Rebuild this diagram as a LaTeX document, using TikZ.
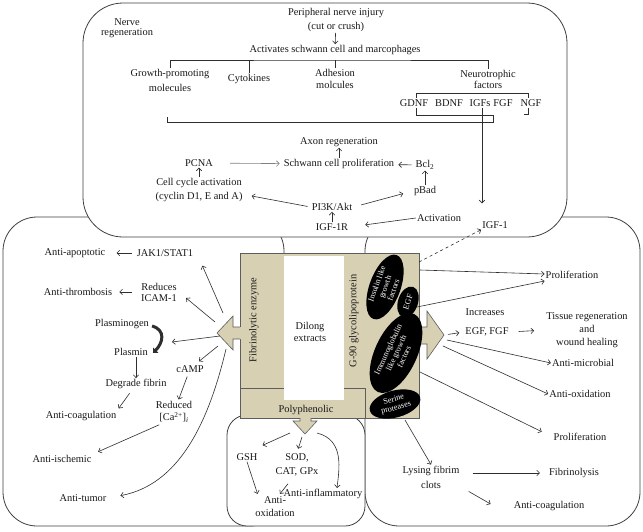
\documentclass[tikz,border=0pt]{standalone}
\usepackage{fontspec}
\setmainfont{Liberation Serif}
\usetikzlibrary{arrows.meta,shapes.geometric,calc}
\definecolor{beige}{HTML}{D7D0B3}
\definecolor{lncol}{HTML}{2E2E2E}
\definecolor{boxcol}{HTML}{404040}
\begin{document}
\begin{tikzpicture}[x=1pt,y=-1pt,
  every node/.style={font=\fontsize{10.4}{12}\selectfont, text=black!90, inner sep=1pt, align=center},
  lsk/.style={font=\fontsize{10.4}{#1}\selectfont},
  arr/.style={draw=lncol, line width=0.6pt, -{Straight Barb[length=2.8pt,width=5.5pt]}},
  plain/.style={draw=lncol, line width=0.6pt},
  bigbox/.style={draw=boxcol, line width=0.8pt, fill=white},
  blob/.style={ellipse, fill=black, draw=none, inner sep=0pt},
  blobtxt/.style={text=white, font=\fontsize{8.2}{8.8}\selectfont, inner sep=0pt},
  beigeline/.style={draw=boxcol!85, line width=0.6pt},
]
\useasboundingbox (0,0) rectangle (643,531);
\fill[white] (0,0) rectangle (643,531);

% ---- outer regions
\draw[bigbox, rounded corners=34pt] (3,217) rectangle (284,526);
\draw[bigbox, rounded corners=34pt] (365,217) rectangle (640,526);
\draw[bigbox, rounded corners=20pt] (227,415) rectangle (365,526);
\draw[bigbox, rounded corners=40pt] (83,3) rectangle (567,237);

% ---- central beige panel
\draw[fill=beige, beigeline] (240,253) rectangle (419,418);
\fill[white] (284,256) rectangle (344,400);
\draw[beigeline] (240,388) -- (284,388) (344,388) -- (365,388) -- (365,418);
\fill[beige] (241,327) -- (233,327) -- (233,316) -- (217,333) -- (233,350) -- (233,339) -- (241,339) -- cycle;
\draw[beigeline] (240,327) -- (233,327) -- (233,316) -- (217,333) -- (233,350) -- (233,339) -- (240,339);
\fill[beige] (418,327) -- (427,327) -- (427,311) -- (444,335) -- (427,359) -- (427,344) -- (418,344) -- cycle;
\draw[beigeline] (419,327) -- (427,327) -- (427,311) -- (444,335) -- (427,359) -- (427,344) -- (419,344);
\fill[beige] (300,417) -- (300,421) -- (293,421) -- (305,434) -- (317,421) -- (311,421) -- (311,417) -- cycle;
\draw[beigeline] (300,418) -- (300,421) -- (293,421) -- (305,434) -- (317,421) -- (311,421) -- (311,418);
\coordinate (Ltip) at (217,333);
\coordinate (Rtip) at (444,335);
\coordinate (Btip) at (305,434);

\node[rotate=90] (fe) at (254,320) {Fibrinolytic enzyme};
\node[rotate=90] (g90) at (354,321) {G-90 glycolipoprotein};
\node (dil) at (310,332) {Dilong\\extracts};
\node (poly) at (306,410) {Polyphenolic};

\node[blob, minimum width=68pt, minimum height=31pt, rotate=70] (e1) at (385,287) {};
\node[blobtxt, rotate=70] (t1) at (e1.center) {Insulin like\\growth\\factors};
\node[blob, minimum width=32pt, minimum height=20pt, rotate=72] (e2) at (408,302) {};
\node[blobtxt, rotate=72] (t2) at (e2.center) {EGF};
\node[blob, minimum width=86pt, minimum height=42pt, rotate=65] (e3) at (396,353) {};
\node[blobtxt, rotate=65] (t3) at (e3.center) {Immunoglobulin\\like growth\\factors};
\node[blob, minimum width=52pt, minimum height=27pt, rotate=15] (e4) at (395,404) {};
\node[blobtxt, rotate=15] (t4) at (e4.center) {Serine\\proteases};

% ---- top region
\node[lsk=10.5] (nr) at (127,28) {Nerve\\regeneration};
\node[lsk=14] (pni) at (336,20) {Peripheral nerve injury\\(cut or crush)};
\node (act) at (335,50) {Activates schwann cell and marcophages};
\draw[arr] (pni) -- (act);
\node[lsk=15] (gpm) at (170,80) {Growth-promoting\\molecules};
\node (cyt) at (249,79) {Cytokines};
\node[lsk=12] (adh) at (335,79) {Adhesion\\molcules};
\node[lsk=11] (neu) at (488,79) {Neurotrophic\\factors};
\coordinate (bar) at (335,60);
\draw[plain] (gpm.north) |- (bar) -| (neu.north);
\draw[plain] (cyt.north) -- (cyt.north |- bar);
\draw[plain] (adh.north) -- (adh.north |- bar);

\node (gdnf) at (414,103) {GDNF};
\node (bdnf) at (449,103) {BDNF};
\node (igfs) at (480,103) {IGFs};
\node (fgf) at (503,103) {FGF};
\node (ngf) at (531,103) {NGF};
\draw[plain] (416,98) |- (528,93) -- (528,98);
\draw[plain] (416,108) -- (416,115) -- (493,115) -- (493,122) -- (167,122) -- (167,117);
\draw[plain] (528,108) -- (528,114) -- (524,114);

\node (axon) at (339,142) {Axon regeneration};
\node (sch) at (339,164) {Schwann cell proliferation};
\node (pcna) at (199,163) {PCNA};
\node[lsk=14] (cca) at (199,190) {Cell cycle activation\\(cyclin D1, E and A)};
\node (bcl) at (425,165) {Bcl\textsubscript{2}};
\node (pbad) at (425,191) {pBad};
\node (pi3k) at (332,207) {PI3K/Akt};
\node (igfr) at (332,227) {IGF-1R};
\node (actv) at (439,218) {Activation};
\node (igf1) at (495,225) {IGF-1};

\draw[arr, shorten >=17pt] ($(igfs.south)+(2,0)$) -- ($(igfs.south |- igf1.north)+(2,0)$);
\draw[arr] (sch) -- (axon);
\draw[arr, draw=gray, shorten <=16pt, shorten >=3pt] (pcna) -- (sch);
\draw[arr] (cca) -- (pcna);
\draw[arr, shorten <=3pt, shorten >=3pt] (bcl) -- (sch);
\draw[arr] (pbad) -- (bcl);
\draw[arr, shorten <=3pt] (pi3k.west) -- ($(cca.east)+(8,6)$);
\draw[arr, shorten <=8pt, shorten >=10pt] (pi3k.east) -- (pbad.west);
\draw[arr] (igfr) -- (pi3k);
\draw[arr, shorten >=16pt] (actv.west) -- (igfr.east);
\coordinate (gtr) at (419,262);
\draw[arr, dashed] (gtr) -- (igf1.south west);

% ---- left region
\node (aap) at (75,253) {Anti-apoptotic};
\node (jak) at (165,253) {JAK1/STAT1};
\node (ath) at (78,292) {Anti-thrombosis};
\node[lsk=11] (ica) at (159,292) {Reduces\\ICAM-1};
\node (plg) at (122,324) {Plasminogen};
\node (pls) at (131,352) {Plasmin};
\node (camp) at (190,369) {cAMP};
\node (dfb) at (136,384) {Degrade fibrin};
\node[lsk=12] (red) at (174,412) {Reduced\\{[}Ca\textsuperscript{2+}{]}\textsubscript{\itshape i}};
\node (aco) at (81,416) {Anti-coagulation};
\node (ais) at (62,459) {Anti-ischemic};
\node (atu) at (83,498) {Anti-tumor};

\draw[arr, shorten <=4pt, shorten >=10pt] (jak.west) -- (aap.east);
\draw[arr, shorten <=8pt, shorten >=6pt] (ica.west) -- (ath.east);
\coordinate (l1) at (223,313);
\coordinate (l2) at (215,322);
\coordinate (l3) at (220,336);
\coordinate (l4) at (218,346);
\coordinate (l5) at (226,349);
\coordinate (cres) at (172,342);
\draw[arr] (l1) -- ($(jak.south east)+(8,8)$);
\draw[arr] (l2) -- ($(ica.east)+(8,6)$);
\draw[arr] (l3) -- (cres);
\draw[arr] (l4) -- ($(camp.north)+(9,-3)$);
\draw[arr, shorten >=13pt] (l5) .. controls (208,425) and (178,485) .. (atu.east);
\draw[lncol, line width=3pt, -{Triangle[length=4pt,width=7pt]}] ($(plg.east)+(2,2)$) .. controls +(14,4) and +(10,-10) .. ($(pls.east)+(4,1)$);
\draw[arr] (dfb.north |- pls.south) -- (dfb.north);
\draw[arr, shorten <=4pt, shorten >=2pt] ($(dfb.south)+(-4,0)$) -- (aco.north east);
\draw[arr, shorten <=3pt, shorten >=1pt] (camp) -- (red);
\draw[arr, shorten <=3pt, shorten >=6pt] ($(red.south)+(-12,0)$) -- (ais.north east);

% ---- right region
\node (pro1) at (572,275) {Proliferation};
\node (inc) at (485,312) {Increases};
\node (egff) at (487,332) {EGF, FGF};
\node[lsk=13] (tis) at (587,330) {Tissue regeneration\\and\\wound healing};
\node (amic) at (583,363) {Anti-microbial};
\node (aox) at (580,394) {Anti-oxidation};
\node (pro2) at (580,437) {Proliferation};
\node[lsk=15] (lys) at (431,477) {Lysing fibrim\\clots};
\node (fib) at (574,473) {Fibrinolysis};
\node (aco2) at (549,506) {Anti-coagulation};

\coordinate (r1) at (420,270);
\coordinate (r2) at (417,307);
\coordinate (r3) at (447,340);
\coordinate (r4) at (443,346);
\coordinate (r5) at (420,372);
\coordinate (r6) at (405,420);
\draw[arr] (r1) -- ($(pro1.west)+(0,-1)$);
\draw[arr] (r2) -- ($(pro1.west)+(0,6)$);
\draw[arr, shorten <=4pt, shorten >=5pt] (Rtip) -- (egff.west);
\draw[arr, shorten <=9pt, shorten >=11pt] (egff.east) -- (tis.west);
\draw[arr] (r3) -- (amic.west);
\draw[arr] (r4) -- (aox.west);
\draw[arr, shorten >=12pt] (r5) -- (pro2.west);
\draw[arr] (r6) -- (lys.north);
\draw[arr, shorten <=12pt, shorten >=8pt] (lys.east |- fib.west) -- (fib.west);
\draw[arr] ($(lys.south east)+(8,2)$) -- ($(aco2.west)+(-22,-2)$);

% ---- bottom region
\node (gsh) at (247,457) {GSH};
\node[lsk=14] (sod) at (297,465) {SOD,\\CAT, GPx};
\node[lsk=13] (aox2) at (275,507) {Anti-\\oxidation};
\node (ainf) at (323,494) {Anti-inflammatory};
\coordinate (b1) at (290,433);
\coordinate (b2) at (302,437);
\coordinate (b3) at (317,433);
\draw[arr] (b1) -- ($(gsh.north east)+(4,-7)$);
\draw[arr, shorten >=4pt] (b2) -- (sod.north);
\draw[arr] (b3) .. controls (345,440) and (339,470) .. ($(ainf.north)+(14,0)$);
\draw[arr, shorten >=2pt] (gsh.south) -- ($(aox2.north west)+(4,0)$);
\draw[arr, shorten <=8pt] ($(sod.south)+(-4,0)$) -- ($(aox2.north)+(5,-2)$);
\end{tikzpicture}
\end{document}
